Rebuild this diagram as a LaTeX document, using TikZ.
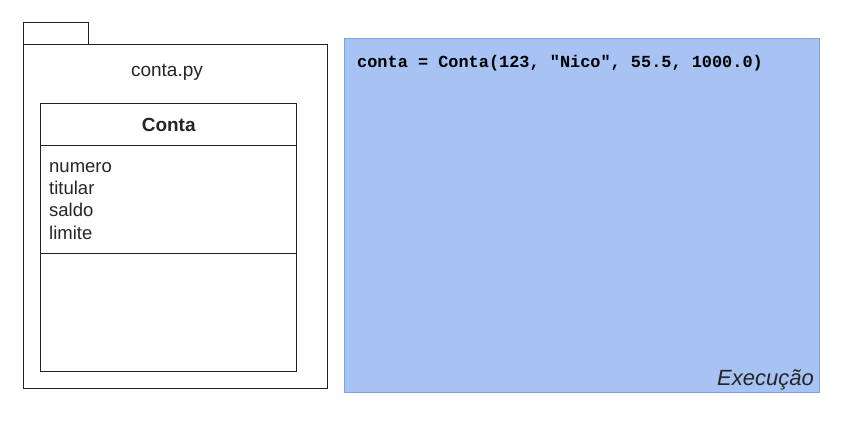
\documentclass[tikz,border=0pt]{standalone}
\usepackage{fontspec}
\setmainfont{Liberation Sans}
\newfontfamily\codefont{Liberation Mono}
\definecolor{execfill}{HTML}{A6C3F4}
\definecolor{execdraw}{HTML}{7EA2E0}
\definecolor{linegray}{HTML}{222222}
\begin{document}
\begin{tikzpicture}[x=1pt,y=-1pt,
  umlbox/.style={draw=linegray,line width=1.4pt,fill=white,inner sep=0pt,anchor=north west},
  txt/.style={inner sep=0pt,text=black!85}]
\useasboundingbox (0,0) rectangle (844,442);
% package
\node[umlbox,minimum width=65pt,minimum height=22pt] (tab) at (23,22) {};
\node[umlbox,minimum width=304pt,minimum height=344pt] (pkg) at (23,44) {};
\node[txt,font=\fontsize{19}{21}\selectfont] (pkgname) at (167,72) {conta.py};
% class
\node[umlbox,minimum width=256pt,minimum height=42pt] (hdr) at (40,103) {};
\node[umlbox,minimum width=256pt,minimum height=108pt] (attrs) at (40,145) {};
\node[umlbox,minimum width=256pt,minimum height=118pt] (meths) at (40,253) {};
\node[txt,font=\fontsize{19}{21}\selectfont\bfseries] (cname) at (hdr.center) {Conta};
\node[txt,anchor=north west,align=left,font=\fontsize{18.5}{22.4}\selectfont] (alist) at (49,162)
  {numero\\titular\\saldo\\limite};
% execution area
\node[draw=execdraw,fill=execfill,line width=1pt,minimum width=475pt,minimum height=354pt,inner sep=0pt,anchor=north west] (exec) at (344,38) {};
\node[txt,anchor=base west,font=\codefont\bfseries\fontsize{16.9}{19}\selectfont,text=black] (code) at (357,67) {conta = Conta(123, "Nico", 55.5, 1000.0)};
\node[txt,anchor=base east,font=\itshape\fontsize{22}{24}\selectfont,text=black!85] (execlabel) at (814,385) {Execução};
\end{tikzpicture}
\end{document}
